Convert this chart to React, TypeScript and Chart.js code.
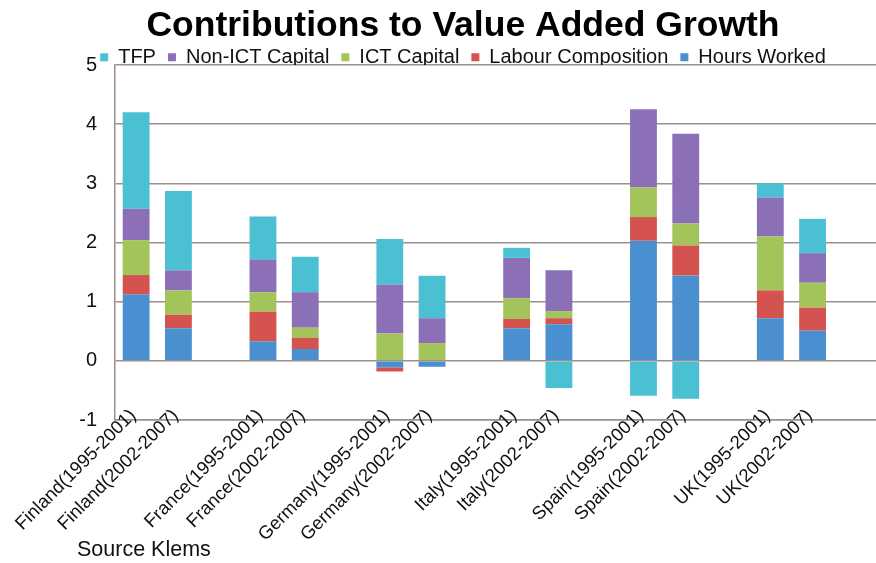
import React, { useEffect, useRef } from "react";
import { Chart, registerables } from "chart.js";

Chart.register(...registerables);

const FONT = "'Liberation Sans', Arial, sans-serif";

const chartTitle = "Contributions to Value Added Growth";
const sourceNote = "Source Klems";

const categories = [
  "Finland(1995-2001)",
  "Finland(2002-2007)",
  "",
  "France(1995-2001)",
  "France(2002-2007)",
  "",
  "Germany(1995-2001)",
  "Germany(2002-2007)",
  "",
  "Italy(1995-2001)",
  "Italy(2002-2007)",
  "",
  "Spain(1995-2001)",
  "Spain(2002-2007)",
  "",
  "UK(1995-2001)",
  "UK(2002-2007)",
  "",
];

const hoursWorked = [1.12, 0.55, null, 0.33, 0.2, null, -0.11, -0.1, null, 0.55, 0.62, null, 2.03, 1.44, null, 0.72, 0.51, null];
const labourComposition = [0.33, 0.23, null, 0.5, 0.19, null, -0.07, 0, null, 0.16, 0.1, null, 0.4, 0.51, null, 0.47, 0.39, null];
const ictCapital = [0.59, 0.41, null, 0.33, 0.17, null, 0.46, 0.3, null, 0.35, 0.12, null, 0.5, 0.37, null, 0.91, 0.42, null];
const nonIctCapital = [0.53, 0.34, null, 0.55, 0.6, null, 0.83, 0.42, null, 0.68, 0.69, null, 1.32, 1.52, null, 0.66, 0.5, null];
const tfp = [1.63, 1.34, null, 0.73, 0.6, null, 0.77, 0.72, null, 0.17, -0.46, null, -0.59, -0.64, null, 0.24, 0.58, null];

const seriesNames = ["Hours Worked", "Labour Composition", "ICT Capital", "Non-ICT Capital", "TFP"];
const seriesColors = ["#4a8fcf", "#d4534f", "#a3c35b", "#8b70b7", "#4bc0d3"];

const yMin = -1;
const yMax = 5;
const yStep = 1;

export default function App() {
  const ref = useRef<HTMLCanvasElement>(null);

  useEffect(() => {
    if (!ref.current) return;
    const legendFit = {
      id: "legendFit",
      beforeInit(chart: any) {
        const orig = chart.legend.fit;
        chart.legend.fit = function () {
          orig.call(this);
          this.height = 29.7;
        };
      },
    };
    const unclipLabels = {
      id: "unclipLabels",
      beforeDraw(chart: any) {
        const s = chart.scales.x;
        if (s) s._computeLabelArea = () => undefined;
      },
    };
    const sourcePlugin = {
      id: "sourceNote",
      afterDraw(chart: any) {
        const c = chart.ctx;
        c.save();
        c.font = `21.5px ${FONT}`;
        c.fillStyle = "#111";
        c.textAlign = "left";
        c.textBaseline = "middle";
        c.fillText(sourceNote, 77, 550);
        c.restore();
      },
    };
    const series = [hoursWorked, labourComposition, ictCapital, nonIctCapital, tfp];
    const chart = new Chart(ref.current, {
      type: "bar",
      data: {
        labels: categories,
        datasets: series.map((d, i) => ({
          label: seriesNames[i],
          data: d,
          backgroundColor: seriesColors[i],
          borderWidth: 0,
        })),
      },
      options: {
        animation: false,
        responsive: false,
        layout: { padding: { left: 46, right: -4, top: 0, bottom: 0 } },
        datasets: { bar: { barPercentage: 0.635, categoryPercentage: 1 } },
        plugins: {
          title: {
            display: true,
            text: chartTitle,
            color: "#000",
            font: { family: FONT, size: 35.5, weight: "bold", lineHeight: 0.507 },
            padding: { top: 17.3, bottom: 0 },
          },
          legend: {
            position: "top",
            reverse: true,
            labels: {
              font: { family: FONT, size: 20 },
              color: "#111",
              boxWidth: 8,
              boxHeight: 8,
              padding: 12,
            },
          },
          tooltip: { enabled: false },
        },
        scales: {
          x: {
            stacked: true,
            grid: { display: false },
            border: { display: true, color: "#9d8f8a", width: 1.5 },
            ticks: {
              autoSkip: false,
              minRotation: 45,
              maxRotation: 45,
              font: { family: FONT, size: 18.5 },
              color: "#111",
              padding: -23,
              labelOffset: -3,
            },
            afterFit(s: any) {
              s.height = 143;
            },
          },
          y: {
            stacked: true,
            min: yMin,
            max: yMax,
            ticks: {
              stepSize: yStep,
              font: { family: FONT, size: 20 },
              color: "#111",
              padding: 18,
            },
            grid: { color: "#9d8f8a", lineWidth: 1.5, drawTicks: false },
            border: { display: true, color: "#9d8f8a", width: 1.5 },
            afterFit(s: any) {
              s.width = 69;
            },
          },
        },
      },
      plugins: [legendFit, unclipLabels, sourcePlugin],
    } as any);
    return () => chart.destroy();
  }, []);

  return (
    <div style={{ position: "fixed", left: 0, top: 0, width: 876, height: 563, background: "#fff" }}>
      <canvas ref={ref} width={876} height={563} style={{ display: "block" }} />
    </div>
  );
}
